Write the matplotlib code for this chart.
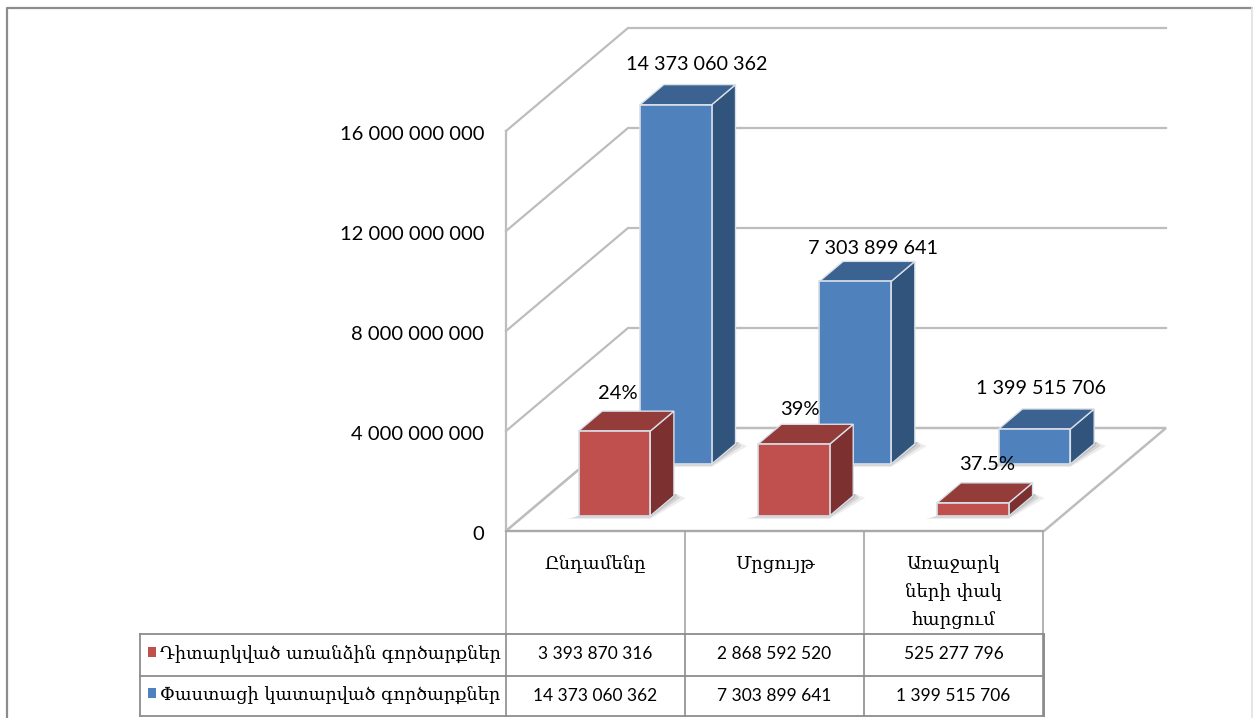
import matplotlib
matplotlib.use("Agg")
import matplotlib.pyplot as plt
from matplotlib.patches import Polygon, Rectangle
from matplotlib.transforms import Affine2D

categories = ["Ընդամենը", "Մրցույթ", "Առաջարկ\nների փակ\nհարցում"]
series_names = ["Դիտարկված առանձին գործարքներ", "Փաստացի կատարված գործարքներ"]
red_values = [3393870316, 2868592520, 525277796]
blue_values = [14373060362, 7303899641, 1399515706]
red_table = ["3 393 870 316", "2 868 592 520", "525 277 796"]
blue_table = ["14 373 060 362", "7 303 899 641", "1 399 515 706"]
red_labels = ["24%", "39%", "37.5%"]
blue_labels = ["14 373 060 362", "7 303 899 641", "1 399 515 706"]
y_ticks = [0, 4000000000, 8000000000, 12000000000, 16000000000]
y_tick_labels = ["0", "4 000 000 000", "8 000 000 000", "12 000 000 000", "16 000 000 000"]

W, H = 1253, 718
CAT_PX = 179.33
VAL_PX = 25e-9
X0, Y0 = 506, 531
fig = plt.figure(figsize=(W / 100, H / 100), dpi=100)
ax = fig.add_axes([0, 0, 1, 1])
ax.set_xlim(-X0 / CAT_PX, (W - X0) / CAT_PX)
ax.set_ylim(-(H - Y0) / VAL_PX, Y0 / VAL_PX)
ax.axis("off")
px = Affine2D().scale(1, -1).translate(0, H)  # pixel coords, origin top-left

DX = 122 / CAT_PX
DY = 103 / VAL_PX
FONT = "Lato"
ARM = "DejaVu Serif"
GRID = "#bdbdbd"


def P(x, v, d):
    return (x + d * DX, v + d * DY)


# outer frame
ax.plot([7, 7, 1252], [718, 8, 8], color="#8c8c8c", lw=1.6, transform=px, clip_on=False)
ax.plot([1252, 1252], [8, 718], color="#e2e2e2", lw=1.2, transform=px, clip_on=False)

# walls
nc = len(categories)
top = y_ticks[-1]
ax.plot([0, 0], [0, top], color=GRID, lw=1.6)
for v in y_ticks[1:]:
    pts = [P(0, v, 0), P(0, v, 1), P(nc, v, 1)]
    ax.plot(*zip(*pts), color=GRID, lw=1.6, zorder=1)
ax.plot(*zip(*[P(0, 0, 0), P(0, 0, 1)]), color=GRID, lw=1.6, zorder=1)

# floor
floor = [P(0, 0, 0), P(nc, 0, 0), P(nc, 0, 1), P(0, 0, 1)]
ax.add_patch(Polygon(floor, closed=True, fc="white", ec=GRID, lw=1.8, zorder=2))

WIDTH = 0.4


def shadow(x, d0, d1):
    for grow, a in [(0.05, 0.10), (0.03, 0.16), (0.012, 0.22)]:
        poly = [P(x - grow, 0, d0 - grow * 0.6), P(x + WIDTH + grow * .4, 0, d0 - grow * 0.6),
                P(x + WIDTH + grow * 1.6, 0, d1 - 0.02), P(x + WIDTH, 0, d1 + 0.02)]
        ax.add_patch(Polygon(poly, closed=True, fc="#555555", ec="none", alpha=a, zorder=3))


def bar(x, v, d0, d1, front, top_c, side, z):
    shadow(x, d0, d1)
    ax.add_patch(Polygon([P(x + WIDTH, 0, d0), P(x + WIDTH, 0, d1), P(x + WIDTH, v, d1), P(x + WIDTH, v, d0)],
                         closed=True, fc=side, ec="#d9dfe8", lw=1.0, zorder=z))
    ax.add_patch(Polygon([P(x, v, d0), P(x + WIDTH, v, d0), P(x + WIDTH, v, d1), P(x, v, d1)],
                         closed=True, fc=top_c, ec="#d9dfe8", lw=1.0, zorder=z))
    ax.add_patch(Polygon([P(x, 0, d0), P(x + WIDTH, 0, d0), P(x + WIDTH, v, d0), P(x, v, d0)],
                         closed=True, fc=front, ec="#d9dfe8", lw=1.2, zorder=z + 0.1))


for i in range(nc):
    bar(i + 0.305, blue_values[i], 0.65, 0.845, "#4f81bd", "#3b6290", "#31547c", 4)
for i in range(nc):
    bar(i + 0.305, red_values[i], 0.146, 0.34, "#c0504d", "#933c3a", "#7c3130", 6)

# value labels (anchored on the bars' top)
blue_off = [(-2, 12), (-5.5, 4), (-16, 12)]
red_off = [(-19, 9), (-17, 6), (-9, 10)]
for i, (v, t) in enumerate(zip(blue_values, blue_labels)):
    x, y = P(i + 0.5, v, 0.845)
    ax.annotate(t, (x, y), xytext=blue_off[i], textcoords="offset pixels", ha="center", va="bottom",
                fontsize=14.2, family=FONT, color="black", zorder=9)
for i, (v, t) in enumerate(zip(red_values, red_labels)):
    x, y = P(i + 0.5, v, 0.34)
    ax.annotate(t, (x, y), xytext=red_off[i], textcoords="offset pixels", ha="center", va="bottom",
                fontsize=14.5, family=FONT, color="black", zorder=9)

# y tick labels
for v, t in zip(y_ticks, y_tick_labels):
    ax.annotate(t, (0, v), xytext=(-22, -4), textcoords="offset pixels", ha="right", va="center",
                fontsize=14.5, family=FONT, color="black")

# data table
VX = [506, 685, 864, 1043]
TL, R0, R1, R2 = 140, 634, 676, 716
tc = "#8c8c8c"
for x in VX:
    ax.plot([x, x], [531, R0], color="#a6a6a6", lw=1.2, transform=px, zorder=8)
    ax.plot([x, x], [R0, R2], color=tc, lw=1.2, transform=px, zorder=8)
ax.plot([VX[-1] + 1, VX[-1] + 1], [R0, R2], color=tc, lw=1.4, transform=px, zorder=8)
for y in (R0, R1, R2):
    ax.plot([TL, VX[-1]], [y, y], color=tc, lw=1.3, transform=px, zorder=8)
ax.plot([TL, TL], [R0, R2], color=tc, lw=1.3, transform=px, zorder=8)
ax.plot([VX[0], VX[-1]], [531, 531], color="#a6a6a6", lw=1.2, transform=px, zorder=8)

for i, c in enumerate(categories):
    cx = (VX[i] + VX[i + 1]) / 2
    ax.text(cx, 555, c, transform=px, ha="center", va="top", fontsize=13, family=ARM, linespacing=1.72, zorder=7)
for i in range(nc):
    cx = (VX[i] + VX[i + 1]) / 2
    ax.text(cx, (R0 + R1) / 2 - 1, red_table[i], transform=px, ha="center", va="center", fontsize=12.5, family=FONT)
    ax.text(cx, (R1 + R2) / 2, blue_table[i], transform=px, ha="center", va="center", fontsize=12.5, family=FONT)

# legend keys and names
for yk, yt, col, name in [(647, 654, "#c0504d", series_names[0]), (688, 696, "#4f81bd", series_names[1])]:
    ax.add_patch(Rectangle((148, yk), 8, 10, fc=col, ec="none", transform=px))
    ax.text(160, yt, name, transform=px, ha="left", va="center", fontsize=12.7, family=ARM)

fig.savefig("out.png", dpi=100)
